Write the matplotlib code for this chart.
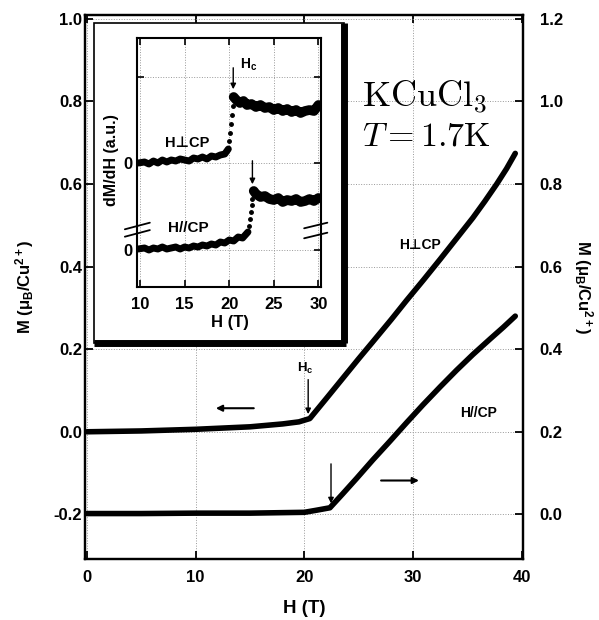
import matplotlib
matplotlib.use('Agg')
import matplotlib.pyplot as plt
from matplotlib.patches import Rectangle
from matplotlib.lines import Line2D

plt.rcParams['font.family'] = ['Liberation Sans', 'DejaVu Sans']
plt.rcParams['font.weight'] = 'bold'
plt.rcParams['axes.labelweight'] = 'bold'
plt.rcParams['mathtext.fontset'] = 'custom'
plt.rcParams['mathtext.rm'] = 'Liberation Sans:bold'
plt.rcParams['mathtext.it'] = 'Liberation Sans:bold'
plt.rcParams['mathtext.bf'] = 'Liberation Sans:bold'
plt.rcParams['lines.solid_capstyle'] = 'round'
plt.rcParams['lines.solid_joinstyle'] = 'round'

# main panel: magnetization curves
perp_H = [0, 5, 10, 15, 18, 19.5, 20.5, 22, 23.3, 25, 26.3, 28, 29.4, 31, 32.5, 34, 35.5, 36.6, 37.7, 38.6, 39.4]
perp_M = [0.0, 0.002, 0.006, 0.012, 0.019, 0.024, 0.032, 0.080, 0.122, 0.177, 0.218, 0.272, 0.318, 0.369,
          0.418, 0.468, 0.518, 0.558, 0.600, 0.637, 0.674]
par_H = [0, 5, 10, 15, 20, 21.1, 22.35, 23.5, 24.8, 26.3, 27.9, 29.4, 30.9, 32.5, 34.0, 35.5, 37.1, 38.3, 39.4]
par_M = [0.002, 0.002, 0.003, 0.003, 0.005, 0.010, 0.016, 0.049, 0.087, 0.132, 0.178, 0.222, 0.265, 0.309,
         0.349, 0.387, 0.425, 0.453, 0.480]

# inset: dM/dH traces (a.u., relative to own zero)
perp_low_H = [9.8, 10.5, 11, 11.5, 12, 12.5, 13, 13.5, 14, 14.5, 15, 15.5, 16, 16.5, 17, 17.5, 18, 18.5, 19, 19.5, 19.9]
perp_low_y = [0.0, 0.1, -0.1, 0.2, 0.0, 0.3, 0.1, 0.3, 0.2, 0.4, 0.3, 0.2, 0.5, 0.4, 0.6, 0.4, 0.7, 0.6, 0.8, 0.9, 1.4]
perp_jump_H = [20.0, 20.1, 20.2, 20.3, 20.4]
perp_jump_y = [2.2, 3.0, 3.9, 4.8, 5.7]
perp_high_H = [20.5, 20.8, 21.2, 21.6, 22, 22.5, 23, 23.5, 24, 24.5, 25, 25.5, 26, 26.5, 27, 27.5, 28, 28.5, 29, 29.5, 30]
perp_high_y = [6.6, 6.3, 6.0, 6.2, 5.8, 5.9, 5.6, 5.8, 5.5, 5.6, 5.3, 5.5, 5.2, 5.4, 5.1, 5.3, 5.0, 5.2, 5.3, 5.2, 5.8]

par_low_H = [9.8, 10.5, 11, 11.5, 12, 12.5, 13, 13.5, 14, 14.5, 15, 15.5, 16, 16.5, 17, 17.5, 18, 18.5, 19, 19.5,
             20, 20.5, 21, 21.5, 22, 22.1]
par_low_y = [0.1, 0.2, 0.0, 0.2, 0.1, 0.3, 0.1, 0.2, 0.3, 0.1, 0.3, 0.2, 0.4, 0.3, 0.5, 0.4, 0.6, 0.5, 0.8, 0.7,
             1.0, 0.9, 1.3, 1.2, 1.7, 1.8]
par_jump_H = [22.2, 22.3, 22.4, 22.5, 22.6]
par_jump_y = [2.4, 3.1, 3.8, 4.5, 5.1]
par_high_H = [22.75, 23, 23.5, 24, 24.5, 25, 25.5, 26, 26.5, 27, 27.5, 28, 28.5, 29, 29.5, 30]
par_high_y = [5.9, 5.6, 5.3, 5.4, 5.1, 5.0, 5.2, 4.8, 5.0, 4.9, 5.1, 4.8, 4.9, 5.1, 4.9, 5.2]

perp_zero = 12.4
par_zero = 3.7

fig = plt.figure(figsize=(5.99, 6.20), dpi=100)
ax = fig.add_axes([0.1419, 0.0984, 0.7312, 0.8774])
ax2 = ax.twinx()

ax.plot(perp_H, perp_M, color='black', lw=4)
ax2.plot(par_H, par_M, color='black', lw=4)

ax.set_xlim(-0.18, 40.11)
ax.set_ylim(-0.308, 1.009)
ax2.set_ylim(-0.108, 1.209)
ax.set_xticks([0, 10, 20, 30, 40])
ax.set_yticks([-0.2, 0.0, 0.2, 0.4, 0.6, 0.8, 1.0])
ax2.set_yticks([0.0, 0.2, 0.4, 0.6, 0.8, 1.0, 1.2])
ax.yaxis.set_major_formatter(matplotlib.ticker.FormatStrFormatter('%.1f'))
ax2.yaxis.set_major_formatter(matplotlib.ticker.FormatStrFormatter('%.1f'))
ax.grid(True, ls=':', color='0.6', lw=0.7)
ax.tick_params(axis='both', direction='in', length=6, width=1.3, labelsize=12, top=True, right=False)
ax.tick_params(axis='y', pad=2)
ax.tick_params(axis='x', pad=8)
ax2.tick_params(axis='y', direction='in', length=6, width=1.3, labelsize=12, pad=12)
for a in (ax, ax2):
    for s in a.spines.values():
        s.set_linewidth(1.6)

ax.set_xlabel('H (T)', fontsize=13.5)
ax.xaxis.set_label_coords(0.5, -0.075)
ax.set_ylabel(r'M ($\mu_B$/Cu$^{2+}$)', fontsize=12)
ax.yaxis.set_label_coords(-0.113, 0.5)
ax2.set_ylabel(r'M ($\mu_B$/Cu$^{2+}$)', fontsize=12, rotation=270, va='bottom')
ax2.yaxis.set_label_coords(1.113, 0.5)

# annotations on the main panel
ax.annotate('', xy=(11.6, 0.057), xytext=(15.6, 0.057),
            arrowprops=dict(arrowstyle='-|>', color='black', lw=1.5, mutation_scale=9))
ax2.annotate('', xy=(30.8, 0.082), xytext=(26.8, 0.082),
             arrowprops=dict(arrowstyle='-|>', color='black', lw=1.5, mutation_scale=9))
ax.annotate('', xy=(20.35, 0.036), xytext=(20.35, 0.133),
            arrowprops=dict(arrowstyle='-|>', color='black', lw=1.0, mutation_scale=8))
ax2.annotate('', xy=(22.45, 0.02), xytext=(22.45, 0.129),
             arrowprops=dict(arrowstyle='-|>', color='black', lw=1.0, mutation_scale=8))
ax.text(20.05, 0.154, r'H$_c$', fontsize=9.5, ha='center', va='center')
ax.text(30.6, 0.452, 'H\u22a5CP', fontsize=10, ha='center', va='center')
ax.text(36.0, 0.045, 'H//CP', fontsize=10, ha='center', va='center')
ax.text(25.3, 0.786, r'$\mathrm{KCuCl_3}$', fontsize=26, math_fontfamily='cm', ha='left', va='baseline')
ax.text(25.3, 0.694, r'$T = 1.7\mathrm{K}$', fontsize=24.5, math_fontfamily='cm', ha='left', va='baseline')

# inset frame with shadow
x0, x1 = 94 / 599, 343.5 / 599
y0, y1 = 1 - 343 / 620, 1 - 22.5 / 620
frame = Rectangle((x0, y0), x1 - x0, y1 - y0, transform=fig.transFigure,
                  facecolor='white', edgecolor='black', lw=1.2, zorder=5)
fig.add_artist(frame)
fig.add_artist(Line2D([x1, x1], [y0, y1], transform=fig.transFigure, color='black', lw=5,
                      solid_capstyle='butt', zorder=6))
fig.add_artist(Line2D([x0, x1 + 2.5 / 599], [y0, y0], transform=fig.transFigure, color='black', lw=5,
                      solid_capstyle='butt', zorder=6))

ins = fig.add_axes([0.2287, 0.5371, 0.3072, 0.4016])
ins.set_zorder(10)
ins.plot(perp_low_H, [v + perp_zero for v in perp_low_y], color='black', lw=5)
ins.plot(perp_jump_H, [v + perp_zero for v in perp_jump_y], 'o', color='black', ms=2.5)
ins.plot(perp_high_H, [v + perp_zero for v in perp_high_y], color='black', lw=7)
ins.plot(par_low_H, [v + par_zero for v in par_low_y], color='black', lw=5)
ins.plot(par_jump_H, [v + par_zero for v in par_jump_y], 'o', color='black', ms=2.5)
ins.plot(par_high_H, [v + par_zero for v in par_high_y], color='black', lw=7)

ins.set_xlim(9.66, 30.29)
ins.set_ylim(0, 24.9)
ins.set_xticks([10, 15, 20, 25, 30])
ins.set_yticks([par_zero, perp_zero, 21.0])
ins.set_yticklabels(['0', '0', ''])
ins.grid(True, ls=':', color='0.6', lw=0.7)
ins.tick_params(axis='both', direction='in', length=5, width=1.2, labelsize=12, top=True, right=True)
ins.tick_params(axis='y', pad=3)
ins.tick_params(axis='x', pad=7)
for s in ins.spines.values():
    s.set_linewidth(1.5)
ins.set_xlabel('H (T)', fontsize=12)
ins.xaxis.set_label_coords(0.505, -0.112)
ins.set_ylabel('dM/dH (a.u.)', fontsize=11.5)
ins.yaxis.set_label_coords(-0.098, 0.51)

ins.annotate('', xy=(20.45, 19.5), xytext=(20.45, 22.2),
             arrowprops=dict(arrowstyle='-|>', color='black', lw=1.0, mutation_scale=8))
ins.annotate('', xy=(22.6, 10.0), xytext=(22.6, 12.9),
             arrowprops=dict(arrowstyle='-|>', color='black', lw=1.0, mutation_scale=8))
ins.text(21.2, 22.2, r'H$_c$', fontsize=10, ha='left', va='center')
ins.text(15.3, 14.4, 'H\u22a5CP', fontsize=10.5, ha='center', va='center')
ins.text(15.4, 5.9, 'H//CP', fontsize=11, ha='center', va='center')

# axis break marks
for yb in (5.77, 5.03):
    ins.plot([8.3, 11.1], [yb, yb + 0.66], color='black', lw=1.3, clip_on=False)
for yb in (5.87, 4.87):
    ins.plot([28.4, 31.0], [yb, yb + 0.56], color='black', lw=1.3, clip_on=False)

fig.savefig('out.png', dpi=100)
